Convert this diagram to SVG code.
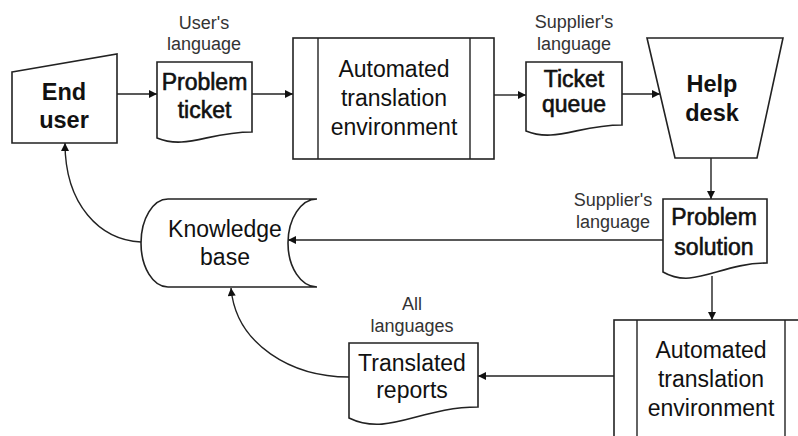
<svg xmlns="http://www.w3.org/2000/svg" width="798" height="436" viewBox="0 0 798 436">
<defs>
<marker id="ah" viewBox="0 0 10 10" refX="10" refY="5" markerWidth="9" markerHeight="8" markerUnits="userSpaceOnUse" orient="auto">
<path d="M0,0 L10,5 L0,10 Z" fill="#111"/>
</marker>
<style>
.shape{fill:#fff;stroke:#222;stroke-width:1.6}
.line{fill:none;stroke:#222;stroke-width:1.4}
.conn{fill:none;stroke:#222;stroke-width:1.4;marker-end:url(#ah)}
.t{font-family:"Liberation Sans",Arial,sans-serif;font-size:23px;fill:#111;text-anchor:middle}
.b{font-weight:bold;font-size:23.5px}
.m{stroke:#111;stroke-width:0.6}
.s{font-family:"Liberation Sans",Arial,sans-serif;font-size:18px;fill:#333;text-anchor:middle}
</style>
</defs>
<rect width="798" height="436" fill="#fff"/>

<g id="connectors">
<path class="conn" d="M117,94 H157"/>
<path class="conn" d="M252,94 H293"/>
<path class="conn" d="M494,95 H526"/>
<path class="conn" d="M622,94 H660"/>
<path class="conn" d="M711,158 V199"/>
<path class="conn" d="M663,240 H288"/>
<path class="conn" d="M712,276 V320"/>
<path class="conn" d="M614,376 H478"/>
<path class="conn" d="M349,377 C292,377 236,345 231,288"/>
<path class="conn" d="M141,242 C100,240 65,205 65,143"/>
</g>

<g id="end-user">
<polygon class="shape" points="12,72 117,54 117,143 12,143"/>
<text class="t b" x="64" y="100">End</text>
<text class="t b" x="64" y="128">user</text>
</g>

<g id="problem-ticket">
<text class="s" x="204" y="29">User's</text>
<text class="s" x="204" y="50">language</text>
<path class="shape" d="M157,62 H252 V132 C209,132 186,150 157,138 Z"/>
<text class="t m" x="204.5" y="90">Problem</text>
<text class="t m" x="204.5" y="118">ticket</text>
</g>

<g id="ate-top">
<rect class="shape" x="293" y="38" width="201" height="121"/>
<line class="line" x1="318" y1="38" x2="318" y2="159"/>
<line class="line" x1="470" y1="38" x2="470" y2="159"/>
<text class="t" x="394" y="77">Automated</text>
<text class="t" x="394" y="106">translation</text>
<text class="t" x="394" y="135">environment</text>
</g>

<g id="ticket-queue">
<text class="s" x="574" y="28">Supplier's</text>
<text class="s" x="574" y="50">language</text>
<path class="shape" d="M526,62 H622 V125 C579,125 555,143 526,131 Z"/>
<text class="t m" x="574" y="87">Ticket</text>
<text class="t m" x="574" y="112">queue</text>
</g>

<g id="help-desk">
<polygon class="shape" points="647,38 783,38 757,158 675,158"/>
<text class="t b" x="712" y="92">Help</text>
<text class="t b" x="712" y="121">desk</text>
</g>

<g id="problem-solution">
<text class="s" x="613" y="206">Supplier's</text>
<text class="s" x="613" y="228">language</text>
<path class="shape" d="M663,199 H767 V263 C720,263 694,290 663,272 Z"/>
<text class="t m" x="714" y="225">Problem</text>
<text class="t m" x="714" y="255">solution</text>
</g>

<g id="knowledge-base">
<path class="shape" d="M168,199 H317 A29,44 0 0 0 288,243 A29,44 0 0 0 317,287 H168 A27,44 0 0 1 141,243 A27,44 0 0 1 168,199 Z"/>
<text class="t" x="225" y="237">Knowledge</text>
<text class="t" x="225" y="265">base</text>
</g>

<g id="ate-bottom">
<rect class="shape" x="614" y="320" width="194" height="130"/>
<line class="line" x1="637" y1="320" x2="637" y2="450"/>
<line class="line" x1="785" y1="320" x2="785" y2="450"/>
<text class="t" x="711" y="358">Automated</text>
<text class="t" x="711" y="387">translation</text>
<text class="t" x="711" y="416">environment</text>
</g>

<g id="translated-reports">
<text class="s" x="412" y="310">All</text>
<text class="s" x="412" y="332">languages</text>
<path class="shape" d="M349,343 H478 V407 C420,407 388,437 349,418 Z"/>
<text class="t" x="412" y="371">Translated</text>
<text class="t" x="412" y="398">reports</text>
</g>
</svg>
